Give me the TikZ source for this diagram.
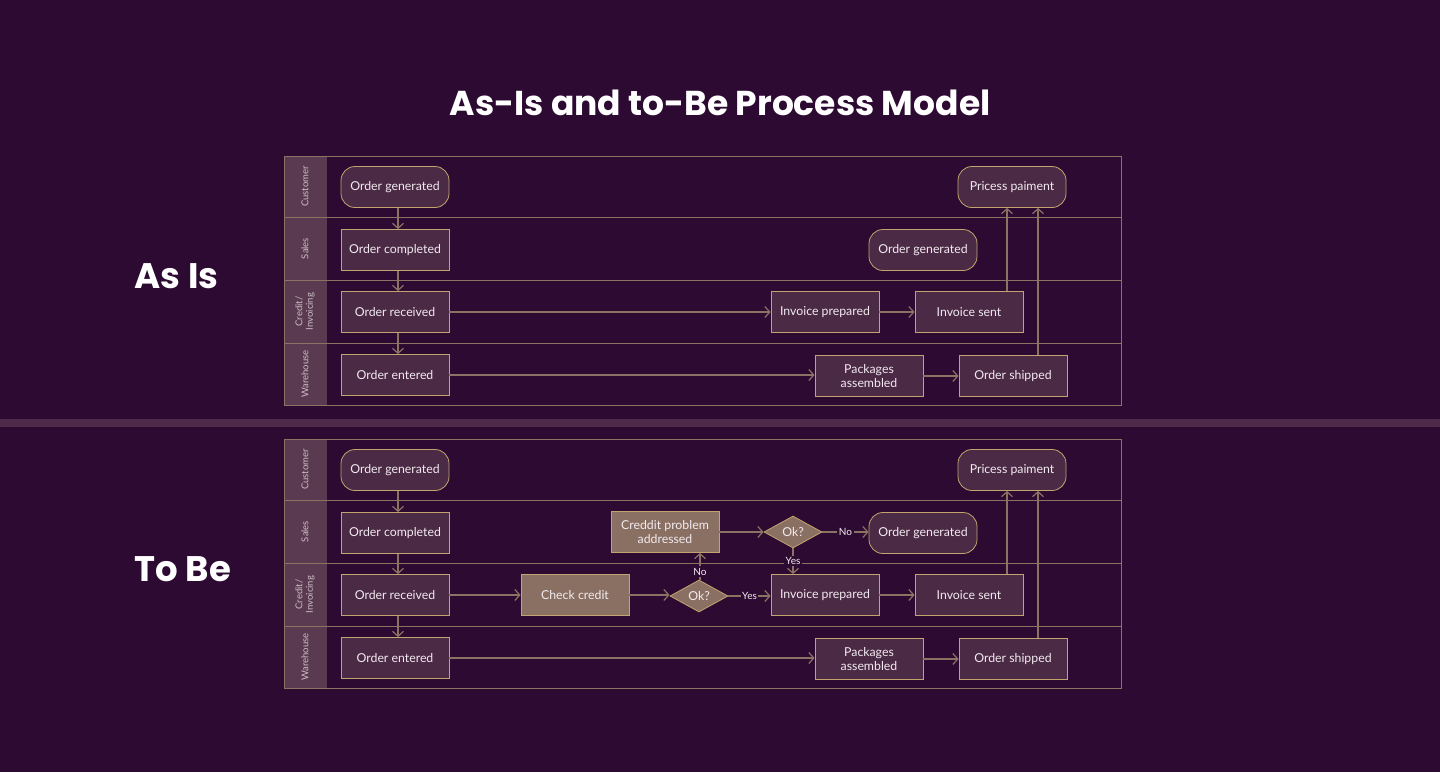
\documentclass[tikz,border=0pt]{standalone}
\usepackage{fontspec}
\setmainfont{Poppins}
\newfontfamily\nodefont{Lato}
\usetikzlibrary{arrows.meta,shapes.geometric,calc}
\definecolor{bg}{HTML}{2D0A32}
\definecolor{band}{HTML}{4F2A4A}
\definecolor{lanehead}{HTML}{5A3A50}
\definecolor{laneline}{HTML}{8C7262}
\definecolor{boxfill}{HTML}{4B2A45}
\definecolor{gold}{HTML}{C2A46E}
\definecolor{tanfill}{HTML}{8A7062}
\definecolor{txt}{HTML}{F2EAF0}
\definecolor{lanetxt}{HTML}{CDBDC6}
\tikzset{
  box/.style={draw=gold, fill=boxfill, line width=0.8pt, minimum width=108, minimum height=41, text=txt, font=\nodefont\fontsize{12.3}{14}\selectfont, align=center, inner sep=2pt},
  rbox/.style={box, rounded corners=14pt},
  tbox/.style={box, fill=tanfill},
  dia/.style={diamond, draw=gold, fill=tanfill, line width=0.8pt, minimum width=58, minimum height=32, inner sep=0pt, text=txt, font=\nodefont\fontsize{12.3}{14}\selectfont},
  arr/.style={draw=laneline, line width=1.2pt, -{Straight Barb[length=5pt,width=11pt,line width=1.2pt]}},
  lbl/.style={fill=bg, text=txt, font=\nodefont\fontsize{10}{11}\selectfont, inner sep=1.5pt},
  lanelbl/.style={rotate=90, text=lanetxt, font=\nodefont\fontsize{9.5}{10.5}\selectfont, align=center},
  heading/.style={text=white, font=\bfseries\fontsize{35.5}{40}\selectfont, anchor=west},
  poolline/.style={draw=laneline, line width=0.8pt},
}
\begin{document}
\begin{tikzpicture}[x=1pt,y=-1pt]
\fill[bg] (0,0) rectangle (1440,772);
\useasboundingbox (0,0) rectangle (1440,772);
\fill[band] (0,419) rectangle (1440,427);
\node[text=white, font=\bfseries\fontsize{34.5}{40}\selectfont] (title) at (720,103) {As-Is and to-Be Process Model};
\node[heading] (asis) at (131,276) {As Is};
\node[heading] (tobe) at (131,569) {To Be};

% ---------- pools ----------
\foreach \t/\n in {156/a,439/b}{
  \fill[lanehead] (284,\t) rectangle (327,\t+249);
  \draw[poolline] (284,\t) rectangle (1121,\t+249);
  \foreach \d in {61,124,187}{ \draw[poolline] (284,\t+\d) -- (1121,\t+\d); }
  \node[lanelbl] (cust\n) at (305,\t+30.5) {Customer};
  \node[lanelbl] (sales\n) at (305,\t+92.5) {Sales};
  \node[lanelbl] (cred\n) at (305,\t+155.5) {Credit/\\Invoicing};
  \node[lanelbl] (ware\n) at (305,\t+218) {Warehouse};
}

% ---------- As Is ----------
\node[rbox] (og) at (395,187) {Order generated};
\node[box] (oc) at (395,250) {Order completed};
\node[box] (orc) at (395,312) {Order received};
\node[box] (oe) at (395,375) {Order entered};
\node[box] (ip) at (825,312) {Invoice prepared};
\node[box] (is) at (969,312) {Invoice sent};
\node[box] (pa) at (869,376) {Packages\\assembled};
\node[box] (os) at (1013,376) {Order shipped};
\node[rbox] (pp) at (1012,187) {Pricess paiment};
\node[rbox] (og2) at (923,250) {Order generated};

\draw[arr] ([xshift=3]og.south) -- ([xshift=3]oc.north);
\draw[arr] ([xshift=3]oc.south) -- ([xshift=3]orc.north);
\draw[arr] ([xshift=3]orc.south) -- ([xshift=3]oe.north);
\draw[arr] (orc) -- (ip);
\draw[arr] (ip) -- (is);
\draw[arr] (oe) -- (oe -| pa.west);
\draw[arr] (pa) -- (os);
\draw[arr] ([xshift=38]is.north) -- ([xshift=38]is.north |- pp.south);
\draw[arr] ([xshift=25]os.north) -- ([xshift=25]os.north |- pp.south);

% ---------- To Be ----------
\node[rbox] (bog) at (395,470) {Order generated};
\node[box] (boc) at (395,533) {Order completed};
\node[box] (borc) at (395,595) {Order received};
\node[box] (boe) at (395,658) {Order entered};
\node[tbox] (bcc) at (575,595) {Check credit};
\node[dia] (bd1) at (699,596) {Ok?};
\node[box] (bip) at (825,595) {Invoice prepared};
\node[box] (bis) at (969,595) {Invoice sent};
\node[box] (bpa) at (869,659) {Packages\\assembled};
\node[box] (bos) at (1013,659) {Order shipped};
\node[rbox] (bpp) at (1012,470) {Pricess paiment};
\node[tbox] (bcp) at (665,532) {Creddit problem\\addressed};
\node[dia] (bd2) at (793,532) {Ok?};
\node[rbox] (bog2) at (923,533) {Order generated};

\draw[arr] ([xshift=3]bog.south) -- ([xshift=3]boc.north);
\draw[arr] ([xshift=3]boc.south) -- ([xshift=3]borc.north);
\draw[arr] ([xshift=3]borc.south) -- ([xshift=3]boe.north);
\draw[arr] (borc) -- (bcc);
\draw[arr] (bcc) -- (bcc -| bd1.west);
\draw[arr] (bd1) -- node[lbl]{Yes} (bd1 -| bip.west);
\draw[arr] ([xshift=1]bd1.north) -- node[lbl,pos=0.3]{No} ([xshift=1]bd1.north |- bcp.south);
\draw[arr] (bcp) -- (bcp -| bd2.west);
\draw[arr] (bd2) -- node[lbl]{No} (bd2 -| bog2.west);
\draw[arr] (bd2.south) -- node[lbl]{Yes} (bd2.south |- bip.north);
\draw[arr] (bip) -- (bis);
\draw[arr] (boe) -- (boe -| bpa.west);
\draw[arr] (bpa) -- (bos);
\draw[arr] ([xshift=38]bis.north) -- ([xshift=38]bis.north |- bpp.south);
\draw[arr] ([xshift=25]bos.north) -- ([xshift=25]bos.north |- bpp.south);
\end{tikzpicture}
\end{document}
